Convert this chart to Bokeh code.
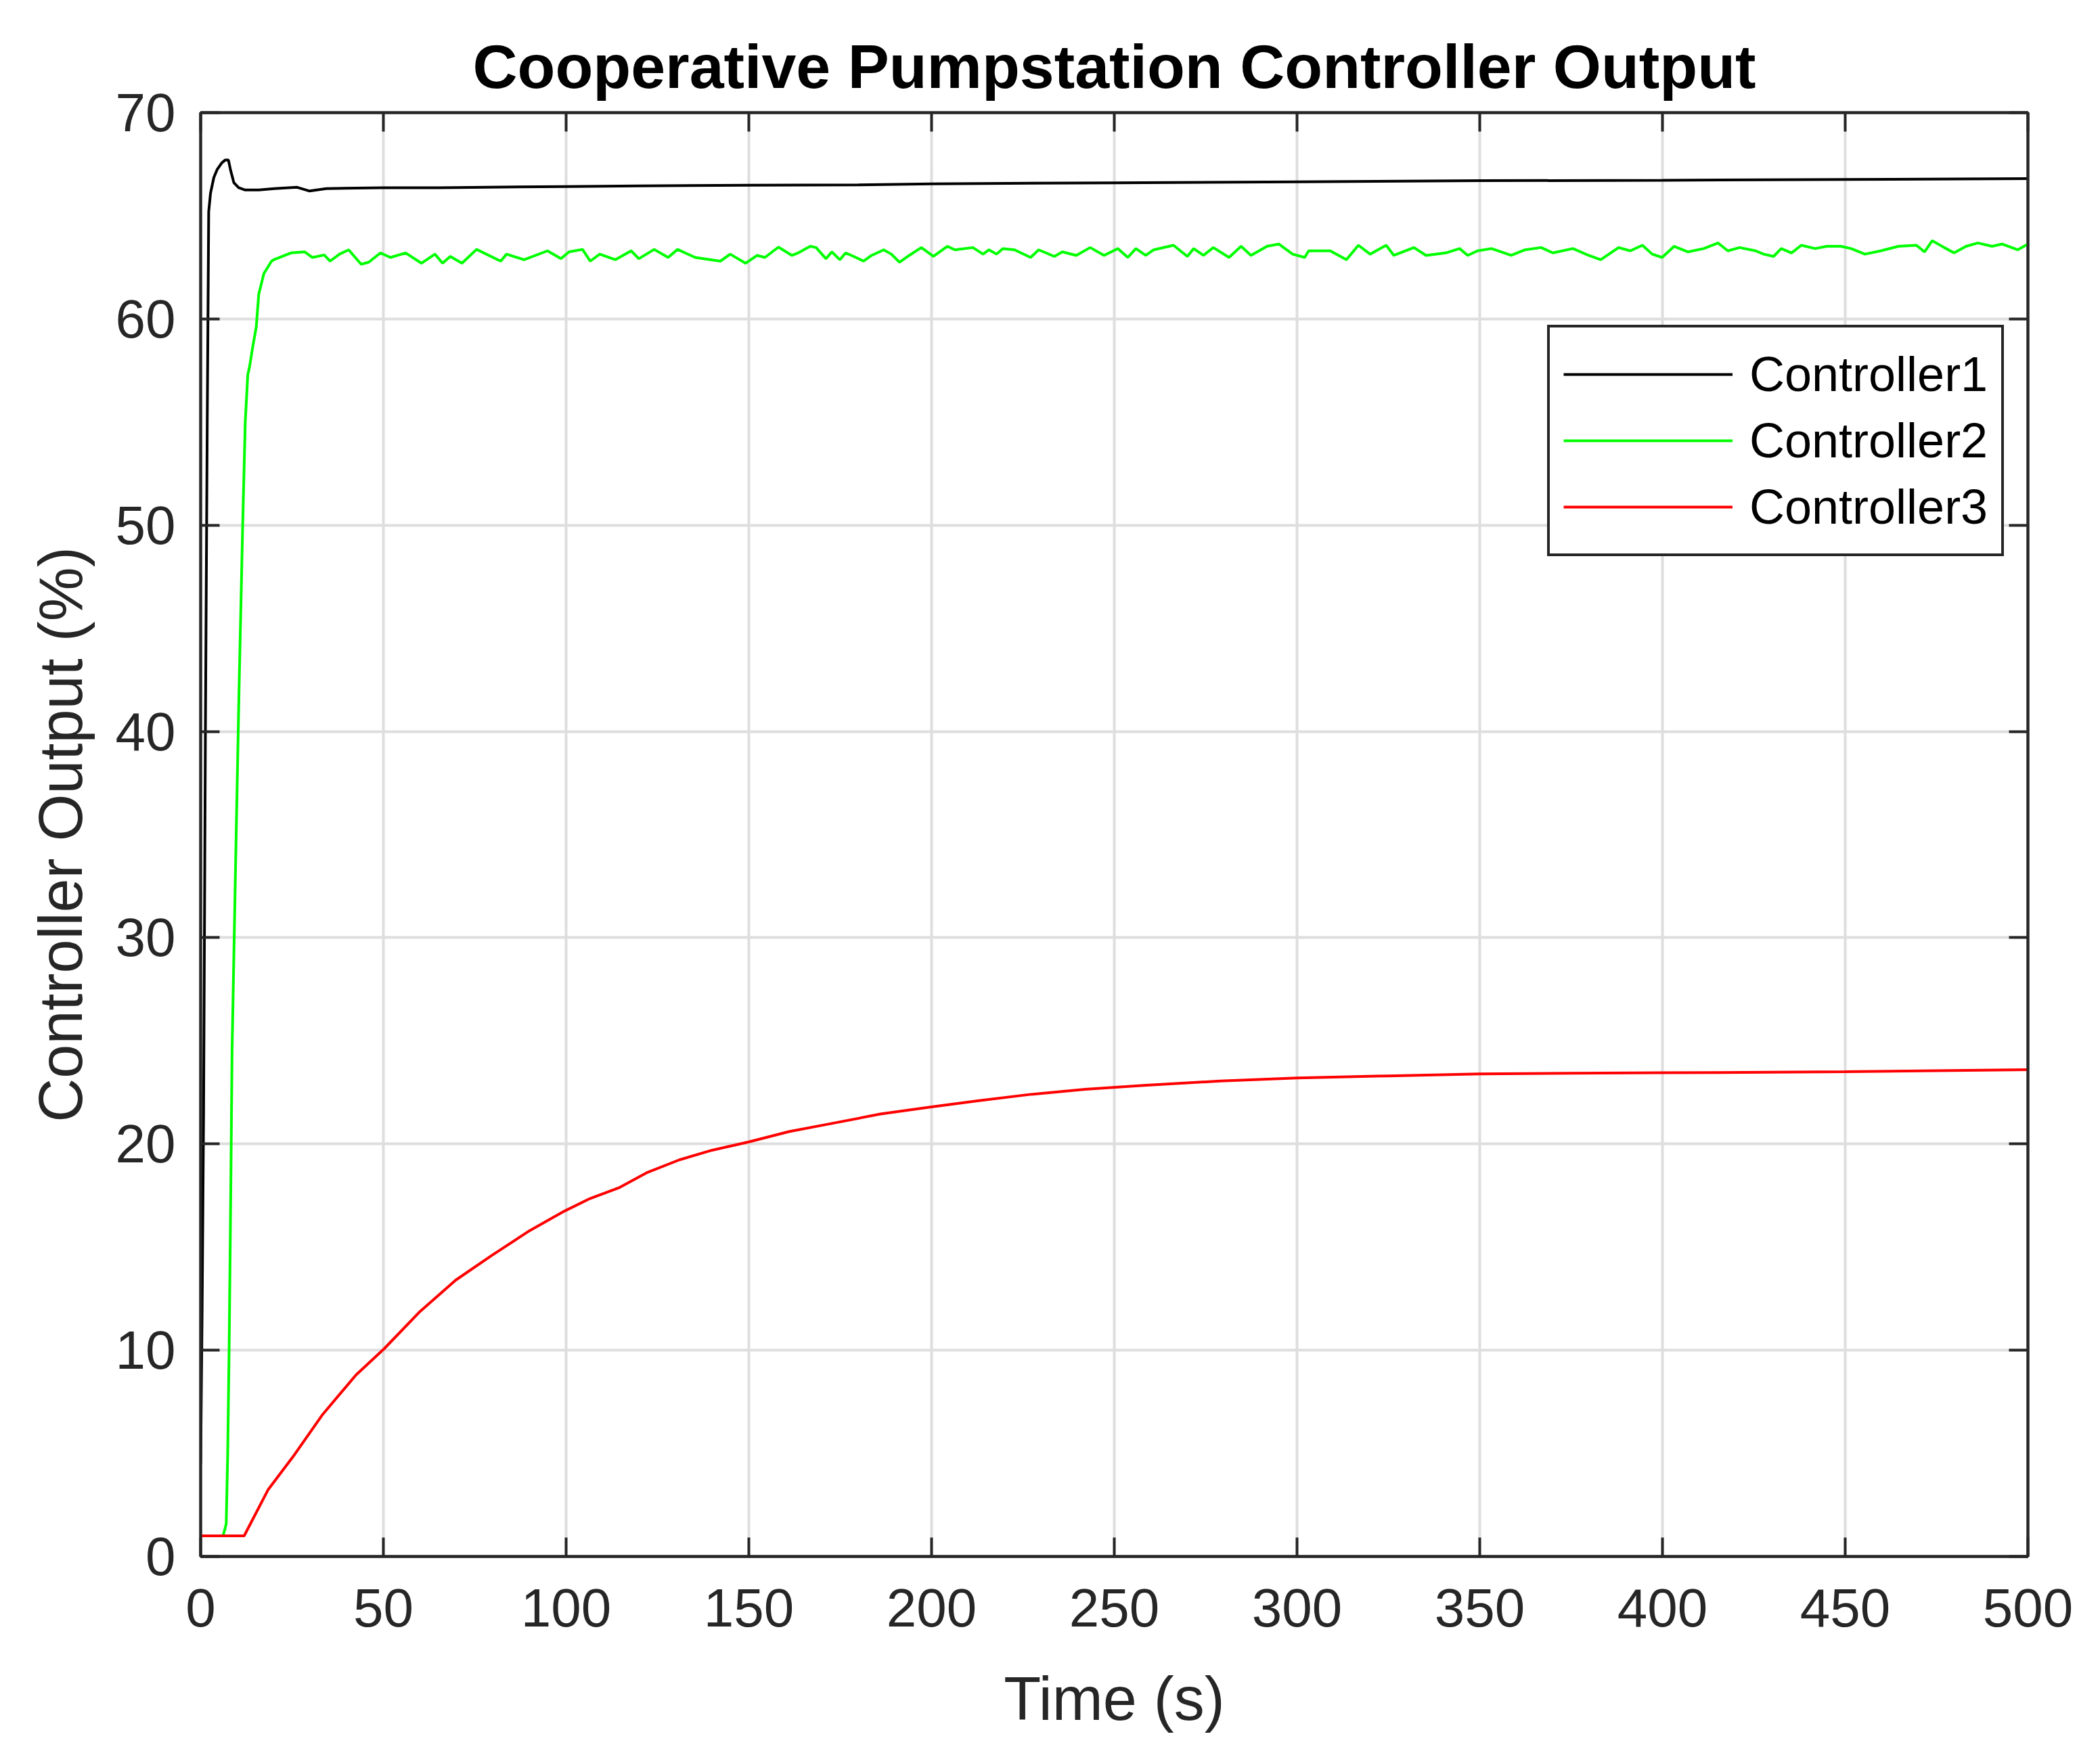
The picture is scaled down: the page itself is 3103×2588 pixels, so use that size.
from bokeh.plotting import figure
from bokeh.models import Range1d, LinearAxis, FixedTicker, Legend, LegendItem
from bokeh.embed import file_html
from bokeh.resources import INLINE

# ---------------- data ----------------
c1_t = [0, 0.4, 0.8, 1.3, 1.8, 2.2, 2.7, 3.6, 4.5, 5.8, 6.7, 7.6, 8.2, 9.1, 10.4,
        12.2, 15.9, 20.2, 26.4, 29.8, 34.4, 49.8, 65.2, 100, 120, 150, 180, 200,
        250, 300, 350, 400, 450, 500]
c1_v = [4.5, 12, 21.5, 40, 55, 65.2, 66.1, 66.85, 67.24, 67.57, 67.7, 67.7, 67.2,
        66.6, 66.36, 66.25, 66.25, 66.32, 66.38, 66.2, 66.32, 66.36, 66.36, 66.42,
        66.45, 66.48, 66.5, 66.55, 66.6, 66.65, 66.7, 66.72, 66.76, 66.8]

c2_t = [0, 6.1, 6.6, 7.0, 7.4, 7.8, 8.2, 8.6, 9.5, 10.5, 11.5, 12.2, 12.9, 13.4,
        14.3, 15.2, 15.9, 17.3, 19.4,
        20, 24.7, 28.5, 30.6, 33.8, 35.4, 38.0, 40.5, 43.9, 46.0, 49.2, 51.9, 56.1,
        60.4, 64.1, 66.2, 68.3, 71.5, 75.5, 82.1, 83.7, 88.5, 94.9, 98.6, 100.8,
        104.5, 106.6, 109.2, 113.5, 117.8, 119.9, 124.1, 127.9, 130.5, 135.3, 142.2,
        144.9, 149.1, 152.3, 154.4, 158.1, 161.8, 163.5, 166.8, 168.4, 171.1, 172.7,
        174.9, 176.5, 178.7, 181.4, 183.6, 186.9, 189.0, 191.2, 193.9, 197.2, 200.5,
        204.3, 206.4, 211.3, 214.1, 215.7, 217.8, 219.5, 222.7, 227.1, 229.3, 233.6,
        235.8, 239.6, 243.4, 247.2, 251.0, 253.7, 255.9, 258.6, 260.8, 266.2, 270.0,
        271.7, 274.4, 277.1, 281.4, 284.7, 287.4, 291.8, 295.0, 298.8, 302.1, 303.2,
        309.1, 313.5, 316.8, 320.0, 324.4, 326.5, 332.0, 335.3, 340.7, 344.5, 346.7,
        349.4, 353.2, 358.6, 362.4, 366.8, 370.0, 375.5, 379.8, 383.1, 388.0, 391.2,
        394.5, 397.2, 399.9, 403.2, 407.0, 411.3, 415.2, 417.9, 421.1, 425.5, 427.7,
        430.4, 432.5, 435.3, 438.0, 441.8, 445.0, 448.8, 451.6, 455.4, 459.7, 464.6,
        469.5, 471.7, 473.8, 477.1, 479.8, 483.1, 486.3, 490.2, 492.9, 497.2, 500]
c2_v = [1, 1, 1.3, 1.6, 5, 10.2, 17, 24.6, 33, 42, 50, 55, 57.3, 57.7,
        58.7, 59.6, 61.2, 62.2, 62.8,
        62.87, 63.2, 63.25, 62.98, 63.1, 62.8, 63.14, 63.35, 62.65, 62.75, 63.2,
        62.98, 63.2, 62.7, 63.14, 62.7, 63.03, 62.7, 63.37, 62.8, 63.14, 62.87,
        63.3, 62.92, 63.25, 63.37, 62.8, 63.14, 62.87, 63.3, 62.92, 63.37, 62.98,
        63.37, 62.98, 62.8, 63.14, 62.7, 63.08, 62.98, 63.48, 63.08, 63.2, 63.52,
        63.46, 62.92, 63.25, 62.87, 63.2, 63.03, 62.8, 63.08, 63.35, 63.14, 62.75,
        63.08, 63.46, 63.03, 63.52, 63.35, 63.46, 63.14, 63.35, 63.14, 63.41,
        63.35, 62.98, 63.35, 63.03, 63.25, 63.08, 63.46, 63.08, 63.41, 62.98,
        63.41, 63.08, 63.35, 63.57, 63.03, 63.41, 63.08, 63.46, 62.98, 63.52,
        63.08, 63.52, 63.63, 63.14, 62.98, 63.3, 63.3, 62.87, 63.57, 63.14, 63.57,
        63.08, 63.46, 63.08, 63.2, 63.41, 63.08, 63.3, 63.41, 63.08, 63.35, 63.46,
        63.2, 63.41, 63.08, 62.87, 63.46, 63.3, 63.57, 63.14, 62.98, 63.52, 63.25,
        63.41, 63.68, 63.3, 63.46, 63.3, 63.14, 63.03, 63.41, 63.2, 63.57, 63.41,
        63.52, 63.52, 63.41, 63.14, 63.3, 63.52, 63.57, 63.25, 63.79, 63.46, 63.2,
        63.52, 63.68, 63.52, 63.63, 63.35, 63.63]

c3_t = [0, 11.9, 18.5, 25.2, 33.4, 42.5, 50.2, 59.8, 69.8, 79.7, 89.6, 99.6, 106.5,
        114.4, 122, 131, 140, 150, 161, 172.3, 186, 200, 213, 226.9, 242, 258, 279,
        300, 325, 350, 375, 400, 450, 500]
c3_v = [1, 1, 3.25, 4.82, 6.89, 8.8, 10.07, 11.84, 13.4, 14.6, 15.75, 16.75, 17.35,
        17.87, 18.6, 19.23, 19.7, 20.1, 20.6, 20.98, 21.45, 21.8, 22.1, 22.4, 22.65,
        22.84, 23.05, 23.2, 23.3, 23.4, 23.43, 23.45, 23.5, 23.6]

series_names = ["Controller1", "Controller2", "Controller3"]
series_colors = ["#000000", "#00ff00", "#ff0000"]
x_ticks = [0, 50, 100, 150, 200, 250, 300, 350, 400, 450, 500]
y_ticks = [0, 10, 20, 30, 40, 50, 60, 70]

# ---------------- figure ----------------
FONT = "Liberation Sans"
AX = "#262626"

p = figure(frame_width=2700, frame_height=2134,
           min_border_left=296, min_border_right=85,
           min_border_top=166, min_border_bottom=265,
           x_range=Range1d(0, 500), y_range=Range1d(0, 70),
           output_backend="svg", toolbar_location=None,
           title="Cooperative Pumpstation Controller Output")

p.title.text_font = FONT
p.title.text_font_size = "91.5px"
p.title.text_font_style = "bold"
p.title.text_color = "#000000"
p.title.align = "center"
p.title.standoff = 36

p.background_fill_color = "white"
p.border_fill_color = "white"
p.outline_line_color = AX
p.outline_line_width = 4

p.xgrid.ticker = FixedTicker(ticks=x_ticks)
p.ygrid.ticker = FixedTicker(ticks=y_ticks)
for g in (p.xgrid[0], p.ygrid[0]):
    g.grid_line_color = "#dedede"
    g.grid_line_width = 4

def style_axis(ax, ticks, show_labels):
    ax.ticker = FixedTicker(ticks=ticks)
    ax.axis_line_color = AX
    ax.axis_line_width = 4
    ax.major_tick_line_color = AX
    ax.major_tick_line_width = 4
    ax.major_tick_in = 28
    ax.major_tick_out = 0
    ax.minor_tick_line_color = None
    ax.major_label_text_font = FONT
    if show_labels:
        ax.major_label_text_color = AX
        ax.major_label_text_font_size = "80px"
    else:
        ax.major_label_text_color = None
        ax.major_label_text_font_size = "1px"
        ax.major_label_standoff = 0

style_axis(p.xaxis[0], x_ticks, True)
style_axis(p.yaxis[0], y_ticks, True)
p.xaxis[0].major_label_standoff = 48
p.yaxis[0].major_label_standoff = 37

p.xaxis[0].axis_label = "Time (s)"
p.yaxis[0].axis_label = "Controller Output (%)"
for ax in (p.xaxis[0], p.yaxis[0]):
    ax.axis_label_text_font = FONT
    ax.axis_label_text_font_size = "90px"
    ax.axis_label_text_font_style = "normal"
    ax.axis_label_text_color = AX
p.xaxis[0].axis_label_standoff = 54
p.yaxis[0].axis_label_standoff = 28

top_ax = LinearAxis()
right_ax = LinearAxis()
style_axis(top_ax, x_ticks, False)
style_axis(right_ax, y_ticks, False)
p.add_layout(top_ax, "above")
p.add_layout(right_ax, "right")

# ---------------- lines ----------------
r1 = p.line(c1_t, c1_v, line_color=series_colors[0], line_width=4)
r2 = p.line(c2_t, c2_v, line_color=series_colors[1], line_width=4)
r3 = p.line(c3_t, c3_v, line_color=series_colors[2], line_width=4)

legend = Legend(items=[LegendItem(label=series_names[0], renderers=[r1]),
                       LegendItem(label=series_names[1], renderers=[r2]),
                       LegendItem(label=series_names[2], renderers=[r3])],
                location=(1990, 1478))
legend.margin = 0
legend.padding = 20
legend.spacing = 0
legend.glyph_width = 250
legend.glyph_height = 98
legend.label_height = 98
legend.label_standoff = 25
legend.label_text_font = FONT
legend.label_text_font_size = "72px"
legend.label_text_color = "#000000"
legend.border_line_color = AX
legend.border_line_alpha = 1.0
legend.border_line_width = 4
legend.background_fill_color = "white"
legend.background_fill_alpha = 1.0
p.add_layout(legend, "center")

open("out.html", "w").write(file_html(p, INLINE))
